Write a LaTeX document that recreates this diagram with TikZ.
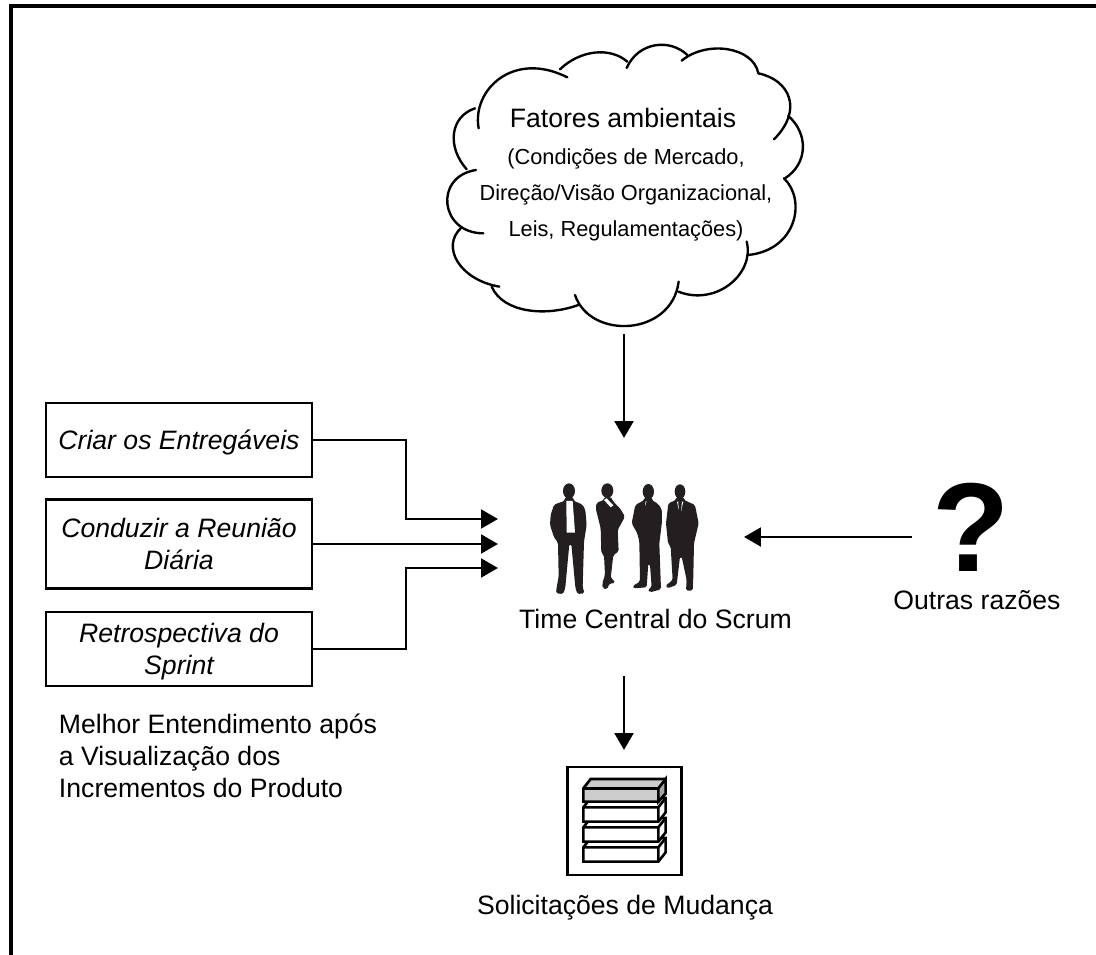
\documentclass[tikz,border=0pt]{standalone}
\usepackage{fontspec}
\setmainfont{Liberation Sans}
\usepackage{xcolor}
\usetikzlibrary{arrows.meta}
\definecolor{suitblack}{HTML}{231F20}

\begin{document}
\begin{tikzpicture}[
    x=0.02cm, y=-0.02cm,
    line width=1.7pt,
    >={Triangle[length=9.6pt, width=10.6pt]},
    txt/.style={font=\fontsize{15.15}{18.4}\selectfont, inner sep=0pt},
    boxed/.style={draw, txt, font=\fontsize{15.15}{18.4}\selectfont\itshape, align=center,
        minimum width=266*0.02cm, inner sep=0pt},
    ghost/.style={inner sep=0pt, outer sep=0pt},
    lobe/.style={line width=1.35pt, line cap=round},
    block/.style={draw, line width=1.5pt, line join=miter}
]
\useasboundingbox (0,0) rectangle (1096,955);

% Frame
\draw[line width=2.3pt] (11,955) -- (11,6) -- (1096,6);

% Nodes
\node[ghost, minimum width=360*0.02cm, minimum height=294*0.02cm] (cloud) at (624,187) {};
\node[ghost, minimum width=246*0.02cm, minimum height=238*0.02cm] (team) at (621,557) {};
\node[boxed, minimum height=74*0.02cm] (create) at (179,440) {\rule{0pt}{14.2pt}Criar os Entreg\'aveis};
\node[boxed, minimum height=89*0.02cm] (standup) at (179,544) {Conduzir a Reuni\~ao\\Di\'aria};
\node[boxed, minimum height=74*0.02cm] (retro) at (179,649) {\rule{0pt}{14.2pt}Retrospectiva do\\Sprint};
\node[ghost, font=\bfseries\fontsize{72}{72}\selectfont, text height=50.4pt, text depth=0pt] (question) at (971.5,527.5) {?};
\node[draw, line width=1.5pt, minimum width=114*0.02cm, minimum height=108*0.02cm] (changes) at (624.5,821) {};
\coordinate (questionout) at (912,537);
\coordinate (changesin) at (624,750);

% Text
\node[txt] (cloudtitle) at (623,118) {Fatores ambientais};
\node[inner sep=0pt, align=center, font=\fontsize{12.4}{20.4}\selectfont] (cloudtext) at (626,195)
    {(Condi\c{c}\~oes de Mercado,\\Dire\c{c}\~ao/Vis\~ao Organizacional,\\Leis, Regulamenta\c{c}\~oes)};
\node[txt] (teamlabel) at (655.5,619) {Time Central do Scrum};
\node[txt] (questionlabel) at (977,600) {Outras raz\~oes};
\node[txt, align=left, anchor=north west] (better) at (57.5,712)
    {Melhor Entendimento ap\'os\\a Visualiza\c{c}\~ao dos\\Incrementos do Produto};
\node[txt] (changeslabel) at (625,908) {Solicita\c{c}\~oes de Mudan\c{c}a};

% Edges
\draw[->] (cloud.south) -- (team.north -| cloud.south);
\draw[->] (create.east) -| (406,519) -- (team.west |- 0,519);
\draw[->] (standup.east) -- (team.west |- standup.east);
\draw[->] (retro.east) -| (406,568) -- (team.west |- 0,568);
\draw[->] (questionout) -- (team.east |- questionout);
\draw[->] (team.south -| changesin) -- (changesin);

% Cloud outline
\begin{scope}[shift={(430,30)}, x=0.02cm/3, y=-0.02cm/3, lobe]
\draw (146,295) .. controls (125,180) and (250,60) .. (412,142);
\draw (390,118) .. controls (450,60) and (540,50) .. (592,95);
\draw (590,114) .. controls (625,35) and (720,25) .. (772,75);
\draw (755,92) .. controls (830,30) and (970,50) .. (985,130);
\draw (985,130) .. controls (1080,150) and (1120,240) .. (1032,328);
\draw (1075,258) .. controls (1135,310) and (1135,400) .. (1065,445);
\draw (1062,445) .. controls (1130,510) and (1100,660) .. (955,675);
\draw (950,635) .. controls (975,730) and (860,830) .. (745,785);
\draw (746,755) .. controls (725,920) and (480,930) .. (435,795);
\draw (445,825) .. controls (350,860) and (220,850) .. (185,770);
\draw (208,770) .. controls (90,750) and (30,650) .. (95,592);
\draw (160,610) .. controls (30,610) and (10,440) .. (138,420);
\draw (110,418) .. controls (50,350) and (60,260) .. (135,235);
\end{scope}

% People
\begin{scope}[shift={(530,500)}, x=0.02cm/3, y=-0.02cm/3, line width=0pt]
\fill[suitblack] (117,-27) ellipse [x radius=18, y radius=23];
\fill[suitblack, rounded corners=1pt] (105,-10) -- (105,2) -- (72,14) -- (62,45) -- (60,75) -- (72,112) -- (84,128) -- (86,230) -- (80,262) -- (78,280)
    -- (100,282) -- (106,262) -- (118,132) -- (124,132) -- (136,262) -- (142,282) -- (164,280) -- (158,262)
    -- (162,125) -- (170,75) -- (166,30) -- (158,14) -- (130,2) -- (130,-10) -- cycle;
\fill[white] (109,3) -- (128,3) -- (135,98) -- (110,98) -- cycle;
\fill[suitblack] (232,-28) ellipse [x radius=18, y radius=22];
\fill[suitblack, rounded corners=1pt] (224,-10) -- (222,0) -- (200,8) -- (197,25) -- (212,85) -- (214,160) -- (222,165) -- (225,225) -- (217,250)
    -- (218,265) -- (232,268) -- (238,250) -- (255,250) -- (252,240) -- (242,235) -- (250,165) -- (266,155)
    -- (263,90) -- (285,50) -- (270,25) -- (250,5) -- (242,-10) -- cycle;
\fill[white] (222,0) -- (230,-5) -- (250,16) -- (242,22) -- cycle;
\fill[suitblack] (355,-25) ellipse [x radius=17, y radius=23];
\fill[suitblack, rounded corners=1pt] (345,-10) -- (343,0) -- (316,15) -- (305,70) -- (322,100) -- (328,125) -- (330,245) -- (308,258)
    -- (310,265) -- (350,262) -- (355,190) -- (360,195) -- (365,262) -- (352,270) -- (360,277) -- (393,268)
    -- (388,130) -- (396,65) -- (396,30) -- (385,12) -- (365,0) -- (365,-10) -- cycle;
\fill[suitblack] (450,-25) ellipse [x radius=16, y radius=22];
\fill[suitblack, rounded corners=1pt] (440,-10) -- (438,0) -- (415,10) -- (408,70) -- (414,130) -- (422,140) -- (428,240) -- (406,258)
    -- (412,265) -- (440,255) -- (450,170) -- (455,170) -- (470,240) -- (468,272) -- (488,272) -- (490,230)
    -- (492,130) -- (506,70) -- (495,15) -- (462,0) -- (460,-10) -- cycle;
\fill[white] (441,5) -- (445,5) -- (446,30) -- cycle;
\fill[white] (456,5) -- (460,5) -- (453,35) -- cycle;
\fill[white] (347,4) -- (350,4) -- (345,18) -- cycle;
\end{scope}

% Stack of change requests
\begin{scope}[shift={(550,750)}, x=0.02cm/3, y=-0.02cm/3]
\foreach \ypos in {292,232,172} {
    \draw[block, fill=white] (100,\ypos) -- (122,\ypos-28) -- (347,\ypos-28) -- (347,\ypos+15)
        -- (325,\ypos+43) -- (100,\ypos+43) -- cycle;
    \draw[block] (100,\ypos) -- (325,\ypos) -- (347,\ypos-28) (325,\ypos) -- (325,\ypos+43);
}
\draw[block, fill=black!20] (100,115) -- (122,87) -- (347,87) -- (347,130) -- (325,155) -- (100,155) -- cycle;
\draw[block, fill=black!35] (325,115) -- (347,87) -- (347,130) -- (325,155) -- cycle;
\draw[block] (100,115) -- (325,115);
\end{scope}

\end{tikzpicture}
\end{document}
